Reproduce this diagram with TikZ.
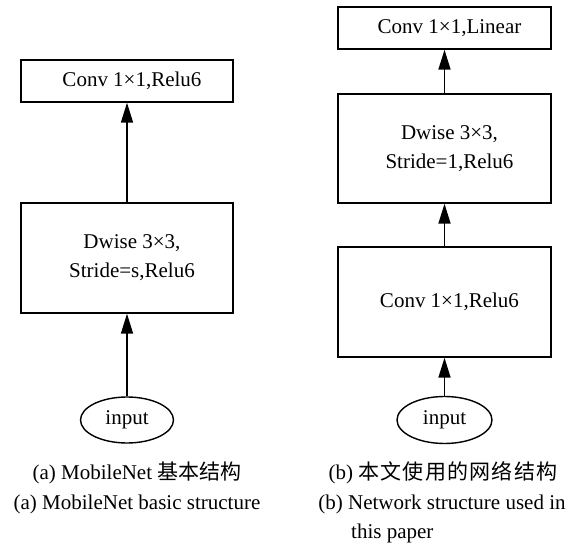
\documentclass[tikz,border=0pt]{standalone}
\usepackage{fontspec}
\setmainfont{Liberation Serif}
\newfontfamily\cjk{Noto Sans CJK SC}
\newfontfamily\cjkwide[LetterSpace=6]{Noto Sans CJK SC}
\usetikzlibrary{arrows.meta,shapes.geometric}
\newcommand{\shiftr}{\hspace*{10pt}}
\begin{document}
\begin{tikzpicture}[x=1pt,y=-1pt,
  box/.style={draw,line width=1.4pt,inner sep=0pt,align=center,font=\fontsize{21}{29}\selectfont},
  oval/.style={draw,ellipse,line width=1.4pt,inner sep=0pt,font=\fontsize{21}{25}\selectfont},
  flow/.style={line width=1.6pt,-{Triangle[length=20pt,width=12pt]}},
  capt/.style={inner sep=0pt,font=\fontsize{21}{25}\selectfont}]
\useasboundingbox (0,0) rectangle (576,545);
% (a)
\node[box,minimum width=212pt,minimum height=42pt] (a1) at (127,81) {\shiftr Conv 1×1,Relu6};
\node[box,minimum width=212pt,minimum height=110pt] (a2) at (127,258) {\shiftr Dwise 3×3,\\\shiftr Stride=s,Relu6};
\node[oval,minimum width=93pt,minimum height=46pt] (a0) at (127,420) {input};
\draw[flow] (a2.north) -- (a1.south);
\draw[flow] (a0.north) -- (a2.south);
% (b)
\node[box,minimum width=213pt,minimum height=42pt] (b3) at (444.5,28) {\shiftr Conv 1×1,Linear};
\node[box,minimum width=213pt,minimum height=109pt] (b2) at (444.5,148.5) {\shiftr Dwise 3×3,\\\shiftr Stride=1,Relu6};
\node[box,minimum width=213pt,minimum height=110pt] (b1) at (444.5,302) {\shiftr Conv 1×1,Relu6};
\node[oval,minimum width=95pt,minimum height=47pt] (b0) at (444.5,420) {input};
\draw[flow] (b2.north) -- (b3.south);
\draw[flow] (b1.north) -- (b2.south);
\draw[flow] (b0.north) -- (b1.south);
% captions
\node[capt,anchor=base] (ca1) at (137,479) {(a) MobileNet {\cjk 基本结构}};
\node[capt,anchor=base] (ca2) at (137,509) {(a) MobileNet basic structure};
\node[capt,anchor=base] (cb1) at (443,479) {(b) {\cjkwide 本文使用的网络结构}};
\node[capt,anchor=base] (cb2) at (442,509) {(b) Network structure used in};
\node[capt,anchor=base west] (cb3) at (351,538) {this paper};
\end{tikzpicture}
\end{document}
